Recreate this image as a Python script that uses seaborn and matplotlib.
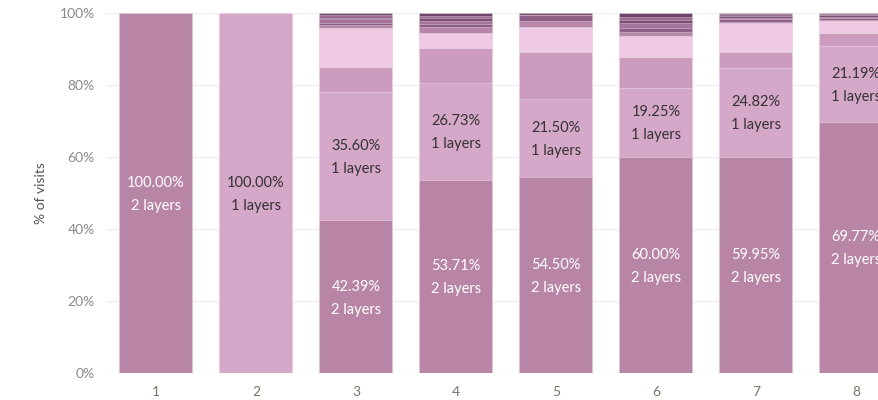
import matplotlib
matplotlib.use("Agg")
import matplotlib.pyplot as plt
import seaborn as sns
import pandas as pd
import numpy as np

# Pages per visit (x categories)
categories = ["1", "2", "3", "4", "5", "6", "7", "8"]

# Share of visits (%) by number of layers, stacked bottom to top
layer_names = ["2 layers", "1 layers", "3 layers", "4 layers", "5 layers",
               "6 layers", "7 layers", "8 layers", "9 layers", "10 layers"]
two_layers = [100.00, 0.00, 42.39, 53.71, 54.50, 60.00, 59.95, 69.77]
one_layer = [0.00, 100.00, 35.60, 26.73, 21.50, 19.25, 24.82, 21.19]
three_layers = [0.00, 0.00, 7.10, 9.90, 13.30, 8.65, 4.30, 3.54]
four_layers = [0.00, 0.00, 10.81, 4.00, 6.90, 5.80, 8.03, 3.20]
five_layers = [0.00, 0.00, 0.80, 1.80, 1.60, 1.00, 0.50, 0.40]
six_layers = [0.00, 0.00, 0.60, 0.90, 1.60, 1.20, 0.60, 0.50]
seven_layers = [0.00, 0.00, 0.90, 0.70, 0.00, 1.30, 0.50, 0.40]
eight_layers = [0.00, 0.00, 0.50, 0.80, 0.60, 0.90, 0.50, 0.40]
nine_layers = [0.00, 0.00, 0.70, 0.60, 0.00, 0.80, 0.40, 0.30]
ten_layers = [0.00, 0.00, 0.60, 0.86, 0.00, 1.10, 0.40, 0.30]

series = [two_layers, one_layer, three_layers, four_layers, five_layers,
          six_layers, seven_layers, eight_layers, nine_layers, ten_layers]

palette = ["#B985A6", "#D5A7C8", "#CC9BBD", "#EECAE5", "#B886AB",
           "#8F5F87", "#A57599", "#7D4D75", "#9B6B92", "#6F4268"]

# Long table with cumulative tops for overlapping stacked bars
rows = []
for name, vals in zip(layer_names, series):
    for cat, v in zip(categories, vals):
        rows.append({"pages": cat, "layers": name, "share": v})
df = pd.DataFrame(rows)
df["layers"] = pd.Categorical(df["layers"], categories=layer_names, ordered=True)
df = df.sort_values(["pages", "layers"])
df["top"] = df.groupby("pages")["share"].cumsum()

sns.set_theme(style="white")
plt.rcParams["font.family"] = ["Lato", "DejaVu Sans"]

fig = plt.figure(figsize=(8.79, 4.0), dpi=100)
ax = fig.add_axes([106 / 879, 27 / 400, 773 / 879, 360 / 400])

bar_width = 0.73
for name, color in reversed(list(zip(layer_names, palette))):
    sub = df[df["layers"] == name]
    sns.barplot(data=sub, x="pages", y="top", order=categories, color=color,
                width=bar_width, errorbar=None, saturation=1, ax=ax,
                edgecolor=(1, 1, 1, 0.45), linewidth=0.5, zorder=2)

# Value labels for the two main layer groups
for i, cat in enumerate(categories):
    base = 0.0
    for name, vals, txt_color in [("2 layers", two_layers, "white"),
                                  ("1 layers", one_layer, "#333333")]:
        v = vals[i]
        if v > 0:
            mid = base + v / 2
            ax.text(i, mid + 2.8, f"{v:.2f}%", ha="center", va="center",
                    color=txt_color, fontsize=10.5, zorder=5)
            ax.text(i, mid - 3.6, name, ha="center", va="center",
                    color=txt_color, fontsize=10.5, zorder=5)
        base += v

ax.set_xlim(-0.5, 7.23)
ax.set_ylim(0, 100)
ax.set_yticks([0, 20, 40, 60, 80, 100])
ax.set_yticklabels(["0%", "20%", "40%", "60%", "80%", "100%"])
ax.yaxis.grid(True, color="#EFEFEF", linewidth=1, zorder=0)
ax.set_axisbelow(True)
ax.tick_params(axis="y", length=0, pad=8, labelsize=10, labelcolor="#8A8A8A")
ax.tick_params(axis="x", length=0, pad=9, labelsize=10, labelcolor="#7F7366")
for s in ax.spines.values():
    s.set_visible(False)
ax.set_xlabel("")
ax.set_ylabel("% of visits", fontsize=10, color="#555555")
ax.yaxis.set_label_coords(-0.076, 0.5)

fig.savefig("out.png", dpi=100)
